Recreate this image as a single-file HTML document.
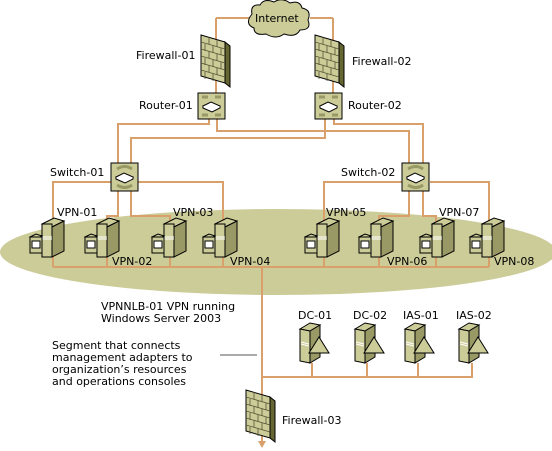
<!DOCTYPE html>
<html><head><meta charset="utf-8"><style>
html,body{margin:0;padding:0;background:#fff}
svg{display:block}
text{font-family:"DejaVu Sans","Liberation Sans",sans-serif;font-size:11px;fill:#000}
</style></head><body>
<svg width="552" height="451" viewBox="0 0 552 451" xmlns="http://www.w3.org/2000/svg">
<defs>
<g id="fw">
<polygon points="0,0 24,7 24,48 0,41" fill="#cccc99" stroke="#000" stroke-width="1"/>
<polygon points="24,7 29,11 29,52 24,48" fill="#666633" stroke="#000" stroke-width="1"/>
<g stroke="#555533" stroke-width="0.8" fill="none">
<path d="M0,7 L24,14 M0,14 L24,21 M0,21 L24,28 M0,28 L24,35 M0,35 L24,42"/>
<path d="M8,2 V9 M16,5 V12 M4,9 V16 M12,11 V18 M20,13 V20 M8,16 V23 M16,19 V26 M4,23 V30 M12,25 V32 M20,27 V34 M8,30 V37 M16,33 V40 M4,37 V44 M12,39 V46"/>
</g>
</g>
<g id="rt">
<rect x="0" y="0" width="27" height="26" fill="#cccc99" stroke="#000"/>
<path d="M4,4 L10,4 M17,4 L23,4 M4,22 L10,22 M17,22 L23,22" stroke="#999966" stroke-width="3"/>
<polygon points="5,13 13,9 22,13 14,17" fill="#fff" stroke="#000"/>
<path d="M5,13 V15 L14,19 L22,15 V13" fill="#fff" stroke="#000"/>
</g>
<g id="sw">
<rect x="0" y="0" width="27" height="28" fill="#cccc99" stroke="#000"/>
<path d="M6,6 Q14,1 21,6 M6,22 Q14,27 21,22" stroke="#999966" stroke-width="3" fill="none"/>
<polygon points="5,14 13,10 22,14 14,18" fill="#fff" stroke="#000"/>
<path d="M5,14 V16 L14,20 L22,16 V14" fill="#fff" stroke="#000"/>
</g>
<g id="vpn">
<polygon points="12,6 24,0 34,3 22,9" fill="#cccc99" stroke="#000"/>
<polygon points="22,9 34,3 34,33 22,39" fill="#999966" stroke="#000"/>
<rect x="12" y="6" width="10" height="33" fill="#cccc99" stroke="#000"/>
<path d="M12,19 H22 M12,21 H22" stroke="#fff" stroke-width="1"/>
<polygon points="0,19 6,16 12,18 6,21" fill="#cccc99" stroke="#000"/>
<rect x="0" y="19" width="12" height="16" fill="#cccc99" stroke="#000"/>
<rect x="2" y="23" width="8" height="7" fill="#fff" stroke="#000"/>
</g>
<g id="dc">
<polygon points="0,6 10,0 20,2 10,8" fill="#cccc99" stroke="#000"/>
<polygon points="0,6 10,8 10,40 0,38" fill="#cccc99" stroke="#000"/>
<polygon points="10,8 20,2 20,34 10,40" fill="#999966" stroke="#000"/>
<path d="M1,19 L9,21 M1,21 L9,23" stroke="#fff"/>
<polygon points="19,14 29,30 9,30" fill="#cccc99" stroke="#000"/>
</g>
</defs>

<ellipse cx="278" cy="252" rx="278" ry="43" fill="#cccc99"/>

<g stroke="#d9a06b" stroke-width="2" fill="none">
<path d="M216,18 H250 M310,18 H333 M216,18 V93 M333,18 V93"/>
<path d="M209,119 V124 H118 V163"/>
<path d="M217,119 V131 H409 V163"/>
<path d="M325,119 V138 H131 V163"/>
<path d="M334,119 V124 H423 V163"/>
<path d="M111,182 H53 V267 M137,182 H223 V267"/>
<path d="M118,191 V216 H107 V267 M131,191 V216 H170 V267"/>
<path d="M402,182 H324 V267 M430,182 H489 V267"/>
<path d="M409,191 V216 H379 V267 M423,191 V216 H436 V267"/>
<path d="M53,267 H489"/>
<path d="M262,267 V442"/>
<path d="M262,377 H473 M312,363 V377 M367,363 V377 M418,363 V377 M472,363 V377"/>
</g>
<polygon points="258,441 266,441 262,448" fill="#d9a06b"/>
<line x1="220" y1="355" x2="257" y2="355" stroke="#555" stroke-width="1"/>

<path d="M252,14 Q250,4 260,5 Q264,-2 274,2 Q282,-3 290,3 Q300,0 302,8 Q312,10 308,20 Q312,30 300,30 Q296,38 284,34 Q276,40 266,34 Q254,36 254,28 Q244,24 252,14 Z" fill="#cccc99" stroke="#000"/>
<text x="255" y="22">Internet</text>

<use href="#fw" x="201" y="35"/>
<use href="#fw" x="315" y="35"/>
<use href="#rt" x="198" y="93"/>
<use href="#rt" x="315" y="93"/>
<use href="#sw" x="111" y="163"/>
<use href="#sw" x="402" y="163"/>

<use href="#vpn" x="30" y="218"/>
<use href="#vpn" x="85" y="218"/>
<use href="#vpn" x="152" y="218"/>
<use href="#vpn" x="203" y="218"/>
<use href="#vpn" x="305" y="218"/>
<use href="#vpn" x="359" y="218"/>
<use href="#vpn" x="420" y="218"/>
<use href="#vpn" x="470" y="218"/>

<use href="#dc" x="300" y="323"/>
<use href="#dc" x="355" y="323"/>
<use href="#dc" x="405" y="323"/>
<use href="#dc" x="459" y="323"/>
<use href="#fw" x="246" y="390"/>

<text x="136" y="59">Firewall-01</text>
<text x="352" y="65">Firewall-02</text>
<text x="139" y="109">Router-01</text>
<text x="348" y="109">Router-02</text>
<text x="50" y="176">Switch-01</text>
<text x="341" y="176">Switch-02</text>
<text x="57" y="216">VPN-01</text>
<text x="173" y="216">VPN-03</text>
<text x="326" y="216">VPN-05</text>
<text x="439" y="216">VPN-07</text>
<text x="112" y="265">VPN-02</text>
<text x="230" y="265">VPN-04</text>
<text x="387" y="265">VPN-06</text>
<text x="494" y="265">VPN-08</text>
<text x="101" y="310">VPNNLB-01 VPN running</text>
<text x="101" y="322">Windows Server 2003</text>
<text x="298" y="319">DC-01</text>
<text x="353" y="319">DC-02</text>
<text x="403" y="319">IAS-01</text>
<text x="456" y="319">IAS-02</text>
<text x="52" y="349">Segment that connects</text>
<text x="52" y="361">management adapters to</text>
<text x="52" y="373">organization’s resources</text>
<text x="52" y="385">and operations consoles</text>
<text x="282" y="424">Firewall-03</text>
</svg>
</body></html>
